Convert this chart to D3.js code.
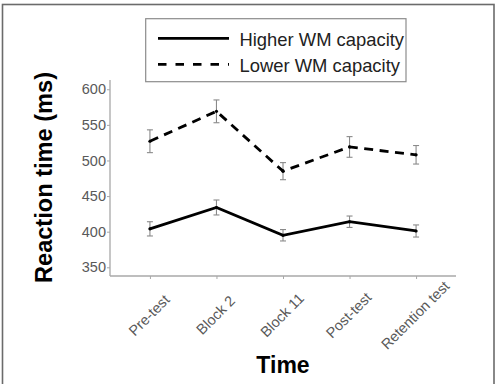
<!DOCTYPE html>
<html><head><meta charset="utf-8">
<script src="https://cdn.jsdelivr.net/npm/d3@7"></script>
<style>body{margin:0;background:#fff}svg{display:block}text{font-family:"Liberation Sans",Arial,sans-serif}</style>
</head><body><svg id="c" width="497" height="384"></svg>
<script>
const categories = ["Pre-test","Block 2","Block 11","Post-test","Retention test"];
const higherMean = [404, 434, 395, 414, 401];
const higherErr  = [10, 10.5, 8, 8, 8.5];
const lowerMean  = [527, 569, 485, 519, 508];
const lowerErr   = [16, 16, 12, 14.5, 13];
const yTicks = [350, 400, 450, 500, 550, 600];
const seriesNames = ["Higher WM capacity", "Lower WM capacity"];

(function () {
const svg = d3.select("#c");
const mLeft = 110, mRight = 456, mTop = 80, mBottom = 276;
const x = d3.scalePoint().domain(categories).range([mLeft, mRight]).padding(0.6);
const y = d3.scaleLinear().domain([337.8, 613]).range([mBottom, mTop]);

// outer border
svg.append("rect").attr("x", 2.5).attr("y", 4.5).attr("width", 491.5).attr("height", 390)
  .attr("fill", "none").attr("stroke", "#6b6b6b").attr("stroke-width", 1.6);

// axes
const axisColor = "#a8a8a8";
const yAxis = svg.append("g").attr("transform", `translate(${mLeft},0)`)
  .call(d3.axisLeft(y).tickValues(yTicks).tickSize(3).tickSizeOuter(0));
const xAxis = svg.append("g").attr("transform", `translate(0,${mBottom})`)
  .call(d3.axisBottom(x).tickSize(3).tickSizeOuter(0).tickFormat(""));
[yAxis, xAxis].forEach(g => {
  g.select(".domain").attr("stroke", axisColor).attr("stroke-width", 1.3);
  g.selectAll(".tick line").attr("stroke", axisColor);
});
yAxis.select(".domain").attr("d", `M0,${mTop}V${mBottom}`);
xAxis.select(".domain").attr("d", `M${mLeft},0H${mRight}`);
yAxis.selectAll(".tick text").attr("fill", "#595959").attr("font-size", 14.5)
  .attr("x", -4).style("font-family", '"Liberation Sans",Arial,sans-serif');

// x tick labels rotated
svg.append("g").selectAll("text").data(categories).join("text")
  .attr("transform", d => `translate(${x(d)},316) rotate(-45)`)
  .attr("text-anchor", "middle").attr("dominant-baseline", "middle")
  .attr("fill", "#595959").attr("font-size", 14.5).text(d => d);

// error bars
function errBars(means, errs) {
  const g = svg.append("g").attr("stroke", "#8a8a8a").attr("stroke-width", 1.1).attr("fill", "none");
  categories.forEach((c, i) => {
    const cx = x(c), y1 = y(means[i] + errs[i]), y2 = y(means[i] - errs[i]);
    g.append("line").attr("x1", cx).attr("x2", cx).attr("y1", y1).attr("y2", y2);
    g.append("line").attr("x1", cx - 3).attr("x2", cx + 3).attr("y1", y1).attr("y2", y1);
    g.append("line").attr("x1", cx - 3).attr("x2", cx + 3).attr("y1", y2).attr("y2", y2);
  });
}
errBars(lowerMean, lowerErr);
errBars(higherMean, higherErr);

const line = d3.line().x((d, i) => x(categories[i])).y(d => y(d));
svg.append("path").datum(higherMean).attr("d", line).attr("fill", "none")
  .attr("stroke", "#000").attr("stroke-width", 2.8);
svg.append("path").datum(lowerMean).attr("d", line).attr("fill", "none")
  .attr("stroke", "#000").attr("stroke-width", 2.8).attr("stroke-dasharray", "9,6.5");

// points
[higherMean, lowerMean].forEach(m => {
  svg.append("g").selectAll("circle").data(m).join("circle")
    .attr("cx", (d, i) => x(categories[i])).attr("cy", d => y(d)).attr("r", 1.6).attr("fill", "#000");
});

// legend
const lg = svg.append("g");
lg.append("rect").attr("x", 145.7).attr("y", 18.7).attr("width", 260.3).attr("height", 63)
  .attr("fill", "#fff").attr("stroke", "#8c8c8c").attr("stroke-width", 1.2);
const legendDash = [null, "8.5,9"];
seriesNames.forEach((s, i) => {
  const ly = 38.3 + i * 26;
  lg.append("line").attr("x1", 158).attr("x2", 229).attr("y1", ly).attr("y2", ly)
    .attr("stroke", "#000").attr("stroke-width", 2.8).attr("stroke-dasharray", legendDash[i]);
  lg.append("text").attr("x", 239.5).attr("y", ly + 7.2).attr("font-size", 18.4)
    .attr("fill", "#222").text(s);
});

// axis titles
svg.append("text").attr("transform", "translate(52,177.5) rotate(-90)")
  .attr("text-anchor", "middle").attr("font-weight", "bold").attr("font-size", 23.6)
  .attr("fill", "#000").text("Reaction time (ms)");
svg.append("text").attr("x", 283).attr("y", 373).attr("text-anchor", "middle")
  .attr("font-weight", "bold").attr("font-size", 23).attr("fill", "#000").text("Time");
})();
</script></body></html>
